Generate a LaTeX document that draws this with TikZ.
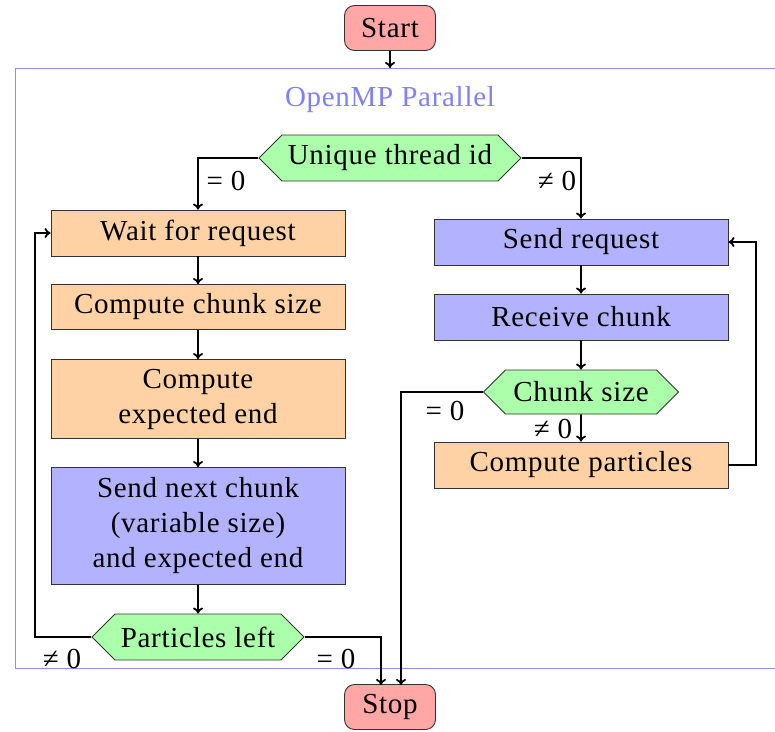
\documentclass[tikz,border=0pt]{standalone}
\usepackage{fontspec}
\setmainfont[LetterSpace=2.5]{Liberation Serif}
\usetikzlibrary{shapes.symbols,arrows.meta}
\begin{document}
\begin{tikzpicture}[x=1pt,y=-1pt,
  font=\fontsize{29}{35}\selectfont,
  pbox/.style={draw=black!80, line width=0.9pt, minimum width=294pt, inner sep=0pt, align=center},
  proc/.style={pbox, fill=orange!35},
  comm/.style={pbox, fill=blue!30},
  term/.style={draw=black!80, line width=0.9pt, fill=red!35, rounded corners=10pt, minimum width=91pt, minimum height=45pt, inner sep=0pt},
  dec/.style={shape=signal, signal to=east and west, signal pointer angle=90, draw=black!80, line width=0.9pt, fill=green!33, minimum height=46pt, inner sep=0pt},
  conn/.style={line width=1.8pt, -{To[length=6pt,width=10pt]}},
  lbl/.style={inner sep=0pt}
]
\useasboundingbox (0,0) rectangle (775,731);
\draw[draw=blue!45, line width=1pt] (15,68) rectangle (790,668);
\coordinate (ftop) at (390,68);
\node[text=blue!50] (title) at (390,100) {OpenMP Parallel};

\node[term] (start) at (390,28) {Start};
\node[dec, minimum width=262pt] (uid) at (390,158) {Unique thread id};
\node[proc, minimum height=46pt] (wait) at (198,233) {Wait for request};
\node[proc, minimum height=45pt] (ccs) at (198,307) {Compute chunk size};
\node[proc, minimum height=79pt] (cee) at (198,399) {Compute\\expected end};
\node[comm, minimum height=117pt] (snc) at (198,526) {Send next chunk\\(variable size)\\and expected end};
\node[dec, minimum width=212pt] (pl) at (198,637) {Particles left};
\node[comm, minimum height=46pt] (sr) at (581,242) {Send request};
\node[comm, minimum height=46pt] (rc) at (581,317) {Receive chunk};
\node[dec, minimum width=195pt, minimum height=44pt] (cs) at (581,392) {Chunk size};
\node[proc, minimum height=46pt] (cp) at (581,465) {Compute particles};
\node[term] (stop) at (390,707) {Stop};

\coordinate (lloop) at (35,637);
\coordinate (rloop) at (756,465);
\coordinate (stopl) at (381,685);
\coordinate (stopr) at (401,685);

\draw[conn] (start) -- (ftop);
\draw[conn] (uid.west) -| (wait.north);
\draw[conn] (uid.east) -| (sr.north);
\draw[conn] (wait) -- (ccs);
\draw[conn] (ccs) -- (cee);
\draw[conn] (cee) -- (snc);
\draw[conn] (snc) -- (pl);
\draw[conn] (pl.west) -- (lloop) |- (wait.west);
\draw[conn] (pl.east) -| (stopl);
\draw[conn] (sr) -- (rc);
\draw[conn] (rc) -- (cs);
\draw[conn] (cs) -- (cp);
\draw[conn] (cs.west) -| (stopr);
\draw[conn] (cp.east) -- (rloop) |- (sr.east);

\node[lbl] (l1) at (226,181) {= 0};
\node[lbl] (l2) at (557,181) {≠ 0};
\node[lbl] (l3) at (62,659) {≠ 0};
\node[lbl] (l4) at (336,659) {= 0};
\node[lbl] (l5) at (445,411) {= 0};
\node[lbl] (l6) at (553,429) {≠ 0};
\end{tikzpicture}
\end{document}
